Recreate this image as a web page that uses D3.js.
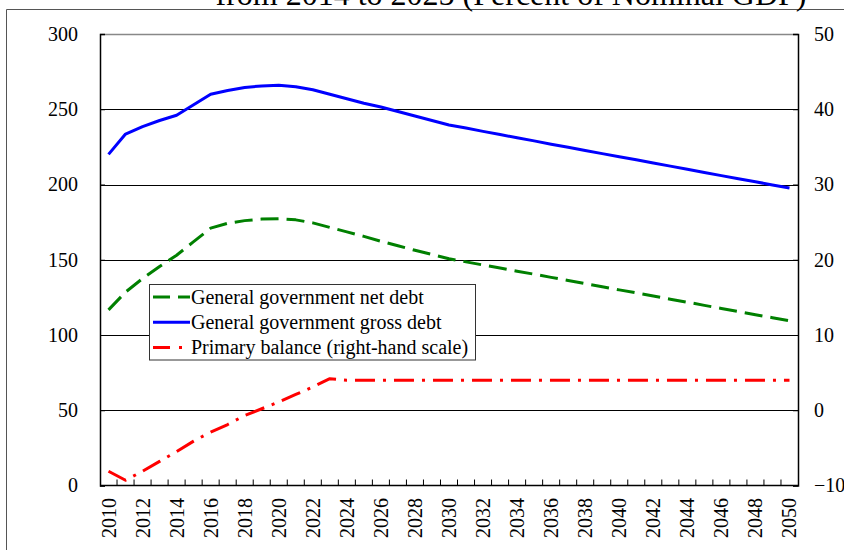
<!DOCTYPE html>
<html><head><meta charset="utf-8">
<script src="https://cdn.jsdelivr.net/npm/d3@7"></script>
<style>
body{margin:0;background:#fff}
svg{display:block}
</style>
</head><body>
<svg id="c" width="844" height="550"></svg>
<script>
const years = [2010,2011,2012,2013,2014,2015,2016,2017,2018,2019,2020,2021,2022,2023,2024,2025,2026,2027,2028,2029,2030,
  2031,2032,2033,2034,2035,2036,2037,2038,2039,2040,2041,2042,2043,2044,2045,2046,2047,2048,2049,2050];
const netDebt = [116.7,128.5,137.5,145.5,153,162,171,174.2,176,177,177.3,176.5,174.5,171.5,168.5,165.5,162.3,159.3,156.3,153.5,150.7,
  148.6,146.5,144.5,142.4,140.4,138.3,136.2,134.1,132.1,130.0,128.0,125.9,123.8,121.8,119.7,117.6,115.6,113.5,111.5,109.4];
const grossDebt = [220,233.5,238.5,242.5,246,253,260,262.5,264.5,265.5,266,265,263,260,257,254,251.5,248.5,245.5,242.5,239.5,
  237.5,235.3,233.2,231.0,229.0,226.8,224.7,222.6,220.5,218.5,216.4,214.3,212.2,210.1,208.0,205.9,203.8,201.8,199.7,197.7];
const primaryBalance = [-8.1,-9.3,-8.1,-6.8,-5.5,-4.1,-2.9,-1.9,-0.7,0.2,1.1,2.1,3.1,4.2,4.0,4.0,4.0,4.0,4.0,4.0,4.0,
  4.0,4.0,4.0,4.0,4.0,4.0,4.0,4.0,4.0,4.0,4.0,4.0,4.0,4.0,4.0,4.0,4.0,4.0,4.0,4.0];
const leftTicks = [0,50,100,150,200,250,300];
const rightTicks = [-10,0,10,20,30,40,50];
const yearLabels = [2010,2012,2014,2016,2018,2020,2022,2024,2026,2028,2030,2032,2034,2036,2038,2040,2042,2044,2046,2048,2050];
const seriesNames = ["General government net debt","General government gross debt","Primary balance (right-hand scale)"];
const titleText = "from 2014 to 2025 (Percent of Nominal GDP)";

const FONT = "'Times New Roman','Liberation Serif','DejaVu Serif',serif";
const L = 100, R = 798, T = 34, B = 485.5;
const svg = d3.select("#c");

const x = d3.scalePoint().domain(years).range([L, R]).padding(0.5);
const yL = d3.scaleLinear().domain([0, 300]).range([B, T]);
const yR = d3.scaleLinear().domain([-10, 50]).range([B, T]);

// outer frame
svg.append("path").attr("d", `M6.5,550 V9.5 H844`).attr("fill","none").attr("stroke","#555").attr("stroke-width",1);

// title (clipped at top, as in the reference)
svg.append("text").attr("x", 511).attr("y", 5).attr("text-anchor","middle")
  .style("font-family", FONT).style("font-size","32px").text(titleText);

// gridlines
svg.append("g").selectAll("line").data(leftTicks.filter(d => d > 0 && d < 300)).join("line")
  .attr("x1", L).attr("x2", R).attr("y1", d => Math.round(yL(d))+0.5).attr("y2", d => Math.round(yL(d))+0.5)
  .attr("stroke","#000").attr("stroke-width",1);

// top border
svg.append("line").attr("x1",L).attr("x2",R).attr("y1",T+0.5).attr("y2",T+0.5).attr("stroke","#888").attr("stroke-width",1.5);

// left axis
const gL = svg.append("g").attr("transform",`translate(${L},0)`)
  .call(d3.axisLeft(yL).tickValues(leftTicks).tickSize(-5).tickPadding(22).tickFormat(d3.format("d")));
// right axis
const gR = svg.append("g").attr("transform",`translate(${R},0)`)
  .call(d3.axisRight(yR).tickValues(rightTicks).tickSize(-5).tickPadding(16).tickFormat(d3.format("d")));
[gL, gR].forEach(g => {
  g.attr("font-family", null).attr("font-size", null);
  g.select(".domain").attr("stroke","#000").attr("stroke-width",1.5);
  g.selectAll(".tick line").attr("stroke","#000");
  g.selectAll("text").style("font-family", FONT).style("font-size","20px").attr("fill","#000");
});
gR.selectAll("text").attr("text-anchor","start");

// bottom axis
const step = x.step();
const bounds = d3.range(1, years.length).map(i => L + i * step);
svg.append("line").attr("x1",L).attr("x2",R).attr("y1",B).attr("y2",B).attr("stroke","#000").attr("stroke-width",1.5);
svg.append("g").selectAll("line").data(bounds).join("line")
  .attr("x1", d => d).attr("x2", d => d).attr("y1", B).attr("y2", B - 6)
  .attr("stroke","#000").attr("stroke-width",1);
svg.append("g").selectAll("text").data(yearLabels).join("text")
  .attr("transform", d => `translate(${x(d)+7},498) rotate(-90)`)
  .attr("text-anchor","end").style("font-family", FONT).style("font-size","20px").text(d => d);

// lines
const lineL = (arr) => d3.line().x((d,i) => x(years[i])).y(d => yL(d))(arr);
const lineR = (arr) => d3.line().x((d,i) => x(years[i])).y(d => yR(d))(arr);

svg.append("path").attr("d", lineL(netDebt)).attr("fill","none").attr("stroke","#008000")
  .attr("stroke-width",3).attr("stroke-dasharray","18,8").attr("stroke-linejoin","round");
svg.append("path").attr("d", lineL(grossDebt)).attr("fill","none").attr("stroke","#0000ff")
  .attr("stroke-width",3).attr("stroke-linejoin","round");
svg.append("path").attr("d", lineR(primaryBalance)).attr("fill","none").attr("stroke","#ff0000")
  .attr("stroke-width",3).attr("stroke-dasharray","20,8,3,8").attr("stroke-linejoin","round");

// legend
const lg = svg.append("g");
lg.append("rect").attr("x",149.5).attr("y",284.5).attr("width",326).attr("height",75.5)
  .attr("fill","#fff").attr("stroke","#333").attr("stroke-width",1);
const styles = [
  {c:"#008000", d:"17,8"},
  {c:"#0000ff", d:null},
  {c:"#ff0000", d:"17,9,3,20"}
];
seriesNames.forEach((n,i) => {
  const cy = 297 + i * 25.2;
  lg.append("line").attr("x1",153).attr("x2",190).attr("y1",cy).attr("y2",cy)
    .attr("stroke",styles[i].c).attr("stroke-width",3).attr("stroke-dasharray",styles[i].d);
  lg.append("text").attr("x",191).attr("y",cy).attr("dy","0.35em")
    .style("font-family", FONT).style("font-size","20px").text(n);
});
</script>
</body></html>
